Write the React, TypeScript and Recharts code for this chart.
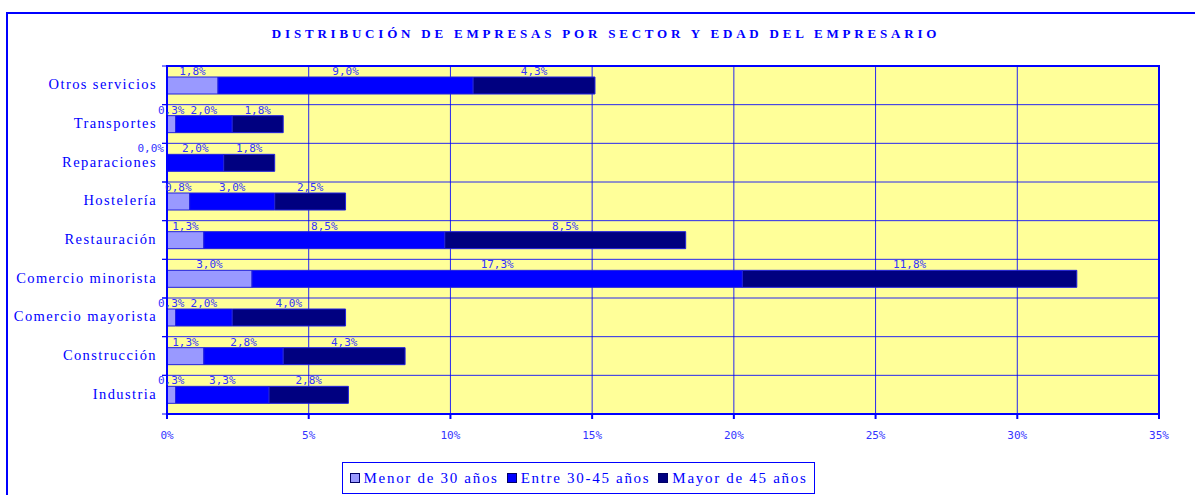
import React from "react";
import { BarChart, Bar, XAxis, YAxis, CartesianGrid, LabelList, ReferenceArea } from "recharts";

const sectors = [
  "Otros servicios",
  "Transportes",
  "Reparaciones",
  "Hostelería",
  "Restauración",
  "Comercio minorista",
  "Comercio mayorista",
  "Construcción",
  "Industria",
];
const menor30 = [1.8, 0.3, 0.0, 0.8, 1.3, 3.0, 0.3, 1.3, 0.3];
const entre30y45 = [9.0, 2.0, 2.0, 3.0, 8.5, 17.3, 2.0, 2.8, 3.3];
const mayor45 = [4.3, 1.8, 1.8, 2.5, 8.5, 11.8, 4.0, 4.3, 2.8];
const xTicks = [0, 5, 10, 15, 20, 25, 30, 35];

const seriesKeys = ["menor", "entre", "mayor"];
const seriesNames = ["Menor de 30 años", "Entre 30-45 años", "Mayor de 45 años"];
const seriesColors = ["#9999FF", "#0000FF", "#000080"];

const data = sectors.map((s, i) => ({
  sector: s,
  menor: menor30[i],
  entre: entre30y45[i],
  mayor: mayor45[i],
}));

const BLUE = "#0000FF";
const CHART_W = 1195;
const CHART_H = 470;
const MARGIN = { top: 52, right: 44, left: 0, bottom: 40 };
const Y_AXIS_W = 159;
const X_AXIS_H = 30;
const PLOT_H = CHART_H - MARGIN.top - MARGIN.bottom - X_AXIS_H;
const BAND = PLOT_H / sectors.length;

const fmt = (v: number) => v.toFixed(1).replace(".", ",") + "%";

const SectorTick = (props: any) => {
  const { x, y, payload } = props;
  return (
    <g>
      <line x1={x + 5} x2={x + 10} y1={y - BAND / 2} y2={y - BAND / 2} stroke={BLUE} />
      <line x1={x + 5} x2={x + 10} y1={y + BAND / 2} y2={y + BAND / 2} stroke={BLUE} />
      <text
        x={x}
        y={y}
        dy={4}
        textAnchor="end"
        fill={BLUE}
        fontFamily="Liberation Serif"
        fontSize={14.5}
        letterSpacing={1.4}
      >
        {payload.value}
      </text>
    </g>
  );
};

// value label above each segment; a zero-width segment gets its label to the left
const SegmentLabel = (props: any) => {
  const { x, y, width, value } = props;
  const v = Number(value);
  const zero = v === 0;
  return (
    <text
      x={zero ? x - 3 : x + width / 2}
      y={y - 2}
      textAnchor={zero ? "end" : "middle"}
      fill="#3333FF"
      fontFamily="DejaVu Sans Mono"
      fontSize={11}
    >
      {fmt(v)}
    </text>
  );
};

const App = () => {
  return (
    <div
      style={{
        position: "fixed",
        left: 6,
        top: 12,
        width: 1210,
        height: 500,
        border: `2px solid ${BLUE}`,
        background: "#fff",
        overflow: "hidden",
      }}
    >
      <div
        style={{
          position: "absolute",
          left: 0,
          top: 12,
          width: 1196,
          textAlign: "center",
          color: BLUE,
          fontFamily: "Liberation Serif",
          fontWeight: "bold",
          fontSize: 13,
          letterSpacing: 3.8,
        }}
      >
        DISTRIBUCIÓN DE EMPRESAS POR SECTOR Y EDAD DEL EMPRESARIO
      </div>
      <div style={{ position: "absolute", left: 0, top: 0 }}>
        <BarChart width={CHART_W} height={CHART_H} data={data} layout="vertical" margin={MARGIN}>
          <CartesianGrid
            fill="#FFFF99"
            stroke={BLUE}
            strokeOpacity={0.85}
            yAxisId="cat"
            horizontalCoordinatesGenerator={({ offset }: any) =>
              sectors.slice(1).map((_, i) => offset.top + ((i + 1) * offset.height) / sectors.length)
            }
          />
          <XAxis
            type="number"
            domain={[0, 35]}
            ticks={xTicks}
            tickFormatter={(v: number) => `${v}%`}
            height={X_AXIS_H}
            stroke={BLUE}
            strokeWidth={2}
            tickSize={5}
            tickMargin={12}
            tick={{ fill: "#3333FF", fontFamily: "DejaVu Sans Mono", fontSize: 11 }}
          />
          <YAxis
            yAxisId="cat"
            type="category"
            dataKey="sector"
            width={Y_AXIS_W}
            stroke={BLUE}
            strokeWidth={2}
            tickLine={false}
            tickSize={0}
            tickMargin={10}
            interval={0}
            tick={<SectorTick />}
          />
          {seriesKeys.map((k, i) => (
            <Bar
              key={k}
              yAxisId="cat"
              dataKey={k}
              name={seriesNames[i]}
              stackId="a"
              fill={seriesColors[i]}
              stroke="#2222DD"
              strokeWidth={1}
              barSize={17}
              minPointSize={i === 0 ? 1 : 0}
              isAnimationActive={false}
            >
              <LabelList dataKey={k} content={<SegmentLabel />} />
            </Bar>
          ))}
          <ReferenceArea
            yAxisId="cat"
            x1={0}
            x2={35}
            fill="none"
            fillOpacity={0}
            stroke={BLUE}
            strokeWidth={2}
            ifOverflow="extendDomain"
          />
        </BarChart>
      </div>
      <div
        style={{
          position: "absolute",
          left: 334,
          top: 448,
          width: 471,
          height: 30,
          border: `1px solid ${BLUE}`,
          background: "#fff",
          display: "flex",
          alignItems: "center",
          justifyContent: "center",
          gap: 8,
          color: BLUE,
          fontFamily: "Liberation Serif",
          fontSize: 15,
          letterSpacing: 1.7,
        }}
      >
        {seriesNames.map((n, i) => (
          <span key={n} style={{ display: "flex", alignItems: "center", gap: 4 }}>
            <span
              style={{
                display: "inline-block",
                width: 8,
                height: 8,
                background: seriesColors[i],
                border: "1px solid #000066",
              }}
            />
            {n}
          </span>
        ))}
      </div>
    </div>
  );
};

export default App;
